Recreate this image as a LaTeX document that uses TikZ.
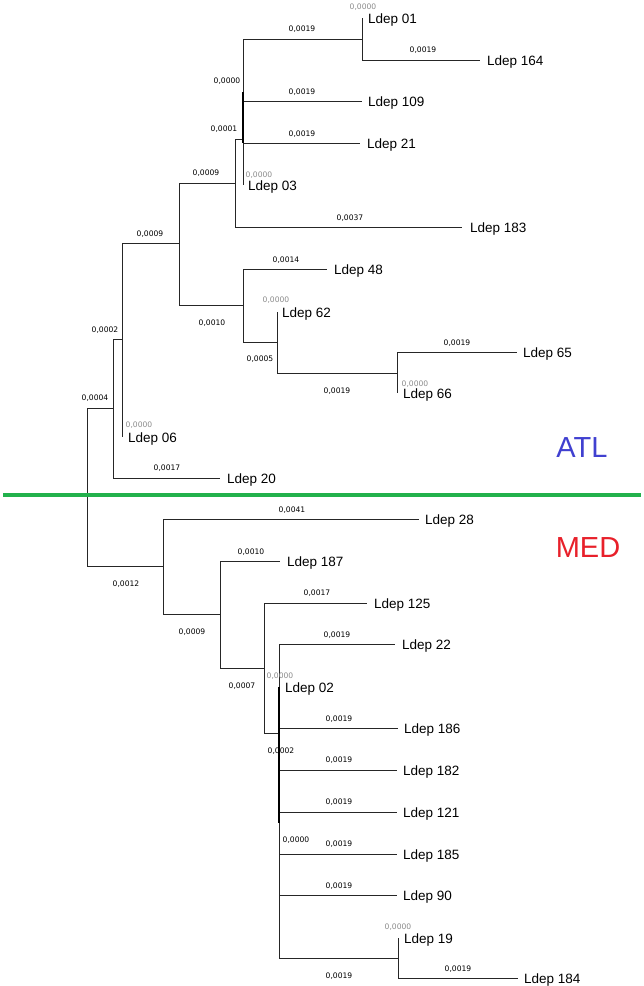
\documentclass[tikz,border=0pt]{standalone}
\usepackage{fontspec}
\setmainfont{Liberation Sans}
\newfontfamily\lblfont{DejaVu Sans}
\definecolor{atlblue}{RGB}{64,64,208}
\definecolor{medred}{RGB}{232,32,42}
\definecolor{sepgreen}{RGB}{34,177,76}
\begin{document}
\begin{tikzpicture}[x=1pt,y=-1pt,
  br/.style={draw=black!85, line width=1pt},
  thick br/.style={draw=black, line width=2pt},
  tip/.style={anchor=west, inner sep=0pt, yshift=-2pt, font=\fontsize{13.5}{14}\selectfont},
  bl/.style={inner sep=0pt, font=\lblfont\fontsize{7.6}{8}\selectfont},
  zl/.style={bl, text=black!45},
  grp/.style={inner sep=0pt, font=\fontsize{29}{30}\selectfont}]
\fill[white] (0,0) rectangle (644,986);
\useasboundingbox (0,0) rectangle (644,986);

% internal nodes (ATL)
\coordinate (R) at (87,487);
\coordinate (H) at (113,408);
\coordinate (G) at (122,339);
\coordinate (C) at (179,243);
\coordinate (B) at (235,183);
\coordinate (A) at (243,139);
\coordinate (N01) at (362,39);
\coordinate (D) at (243,305);
\coordinate (E) at (277,342);
\coordinate (F) at (397,373);
% internal nodes (MED)
\coordinate (I) at (163,566);
\coordinate (J) at (220,614);
\coordinate (K) at (264,668);
\coordinate (L) at (279,733);
\coordinate (M) at (398,958);

% tips
\coordinate (c01) at (362,18);
\coordinate (c164) at (480,60);
\coordinate (c109) at (362,101);
\coordinate (c21) at (360,143);
\coordinate (c03) at (243,185);
\coordinate (c183) at (462,227);
\coordinate (c48) at (327,269);
\coordinate (c62) at (277,312);
\coordinate (c65) at (517,352);
\coordinate (c66) at (397,393);
\coordinate (c06) at (122,437);
\coordinate (c20) at (220,478);
\coordinate (c28) at (419,519);
\coordinate (c187) at (280,561);
\coordinate (c125) at (367,603);
\coordinate (c22) at (395,644);
\coordinate (c02) at (279,687);
\coordinate (c186) at (398,728);
\coordinate (c182) at (397,770);
\coordinate (c121) at (397,812);
\coordinate (c185) at (397,854);
\coordinate (c90) at (397,895);
\coordinate (c19) at (398,938);
\coordinate (c184) at (518,978);

% tip labels
\node[tip] (t01) at ([xshift=6pt]c01) {Ldep 01};
\node[tip] (t164) at ([xshift=7pt]c164) {Ldep 164};
\node[tip] (t109) at ([xshift=6pt]c109) {Ldep 109};
\node[tip] (t21) at ([xshift=7pt]c21) {Ldep 21};
\node[tip] (t03) at ([xshift=5pt]c03) {Ldep 03};
\node[tip] (t183) at ([xshift=8pt]c183) {Ldep 183};
\node[tip] (t48) at ([xshift=7pt]c48) {Ldep 48};
\node[tip] (t62) at ([xshift=5pt]c62) {Ldep 62};
\node[tip] (t65) at ([xshift=6pt]c65) {Ldep 65};
\node[tip] (t66) at ([xshift=6pt]c66) {Ldep 66};
\node[tip] (t06) at ([xshift=6pt]c06) {Ldep 06};
\node[tip] (t20) at ([xshift=7pt]c20) {Ldep 20};
\node[tip] (t28) at ([xshift=6pt]c28) {Ldep 28};
\node[tip] (t187) at ([xshift=7pt]c187) {Ldep 187};
\node[tip] (t125) at ([xshift=7pt]c125) {Ldep 125};
\node[tip] (t22) at ([xshift=7pt]c22) {Ldep 22};
\node[tip] (t02) at ([xshift=6pt]c02) {Ldep 02};
\node[tip] (t186) at ([xshift=6pt]c186) {Ldep 186};
\node[tip] (t182) at ([xshift=6pt]c182) {Ldep 182};
\node[tip] (t121) at ([xshift=6pt]c121) {Ldep 121};
\node[tip] (t185) at ([xshift=6pt]c185) {Ldep 185};
\node[tip] (t90) at ([xshift=6pt]c90) {Ldep 90};
\node[tip] (t19) at ([xshift=6pt]c19) {Ldep 19};
\node[tip] (t184) at ([xshift=6pt]c184) {Ldep 184};

% branches
\draw[br] (R) |- (H);
\draw[br] (R) |- (I);
\draw[br] (H) |- (G);
\draw[br] (H) |- (c20);
\draw[br] (G) |- (C);
\draw[br] (G) |- (c06);
\draw[br] (C) |- (B);
\draw[br] (C) |- (D);
\draw[br] (B) |- (A);
\draw[br] (B) |- (c183);
\draw[br] (A) |- (N01);
\draw[br] (A) |- (c109);
\draw[br] (A) |- (c21);
\draw[br] (A) |- (c03);
\draw[br] (N01) |- (c01);
\draw[br] (N01) |- (c164);
\draw[br] (D) |- (c48);
\draw[br] (D) |- (E);
\draw[br] (E) |- (c62);
\draw[br] (E) |- (F);
\draw[br] (F) |- (c65);
\draw[br] (F) |- (c66);
\draw[br] (I) |- (c28);
\draw[br] (I) |- (J);
\draw[br] (J) |- (c187);
\draw[br] (J) |- (K);
\draw[br] (K) |- (c125);
\draw[br] (K) |- (L);
\draw[br] (L) |- (c22);
\draw[br] (L) |- (c02);
\draw[br] (L) |- (c186);
\draw[br] (L) |- (c182);
\draw[br] (L) |- (c121);
\draw[br] (L) |- (c185);
\draw[br] (L) |- (c90);
\draw[br] (L) |- (M);
\draw[br] (M) |- (c19);
\draw[br] (M) |- (c184);
% heavy zero-length stretches
\draw[thick br] (243,92) -- (A |- c21);
\draw[thick br] (c02) -- (279,823);

% branch lengths
\node[zl] at (363,7) {0,0000};
\node[bl] at (302,29) {0,0019};
\node[bl] at (423,50) {0,0019};
\node[bl] at (227,81) {0,0000};
\node[bl] at (302,92) {0,0019};
\node[bl] at (224,129) {0,0001};
\node[bl] at (302,134) {0,0019};
\node[zl] at (259,175) {0,0000};
\node[bl] at (206,173) {0,0009};
\node[bl] at (350,218) {0,0037};
\node[bl] at (150,234) {0,0009};
\node[bl] at (286,260) {0,0014};
\node[zl] at (276,300) {0,0000};
\node[bl] at (212,323) {0,0010};
\node[bl] at (105,330) {0,0002};
\node[bl] at (457,343) {0,0019};
\node[bl] at (260,359) {0,0005};
\node[zl] at (415,384) {0,0000};
\node[bl] at (337,391) {0,0019};
\node[bl] at (95,398) {0,0004};
\node[zl] at (139,425) {0,0000};
\node[bl] at (167,468) {0,0017};

\node[bl] at (292,510) {0,0041};
\node[bl] at (251,552) {0,0010};
\node[bl] at (126,584) {0,0012};
\node[bl] at (317,593) {0,0017};
\node[bl] at (192,632) {0,0009};
\node[bl] at (337,635) {0,0019};
\node[zl] at (280,676) {0,0000};
\node[bl] at (242,686) {0,0007};
\node[bl] at (339,719) {0,0019};
\node[bl] at (281,751) {0,0002};
\node[bl] at (339,760) {0,0019};
\node[bl] at (339,802) {0,0019};
\node[bl] at (296,840) {0,0000};
\node[bl] at (339,844) {0,0019};
\node[bl] at (339,886) {0,0019};
\node[zl] at (398,927) {0,0000};
\node[bl] at (458,969) {0,0019};
\node[bl] at (339,976) {0,0019};

% separator and group names
\coordinate (gl) at (3,495);
\coordinate (gr) at (641,495);
\draw[sepgreen, line width=4pt] (gl) -- (gr);
\node[grp, text=atlblue] (atl) at (582,448) {ATL};
\node[grp, text=medred] (med) at (588,548) {MED};
\end{tikzpicture}
\end{document}
